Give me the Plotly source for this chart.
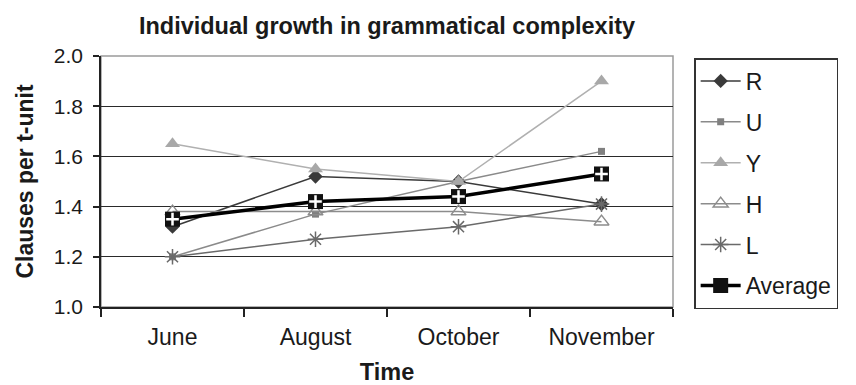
import plotly.graph_objects as go

months = ["June", "August", "October", "November"]
R = [1.32, 1.52, 1.50, 1.41]
U = [1.20, 1.37, 1.50, 1.62]
Y = [1.65, 1.55, 1.50, 1.90]
H = [1.38, 1.38, 1.38, 1.34]
L = [1.20, 1.27, 1.32, 1.41]
AVG = [1.35, 1.42, 1.44, 1.53]
y_ticks = [1.0, 1.2, 1.4, 1.6, 1.8, 2.0]

FONT = "Liberation Sans, Arial, sans-serif"

fig = go.Figure()
series = [
    ("R", R, "#3a3a3a", dict(symbol="diamond", size=11, color="#3a3a3a")),
    ("U", U, "#8a8a8a", dict(symbol="square", size=7, color="#808080")),
    ("Y", Y, "#b0b0b0", dict(symbol="triangle-up", size=13, color="#a8a8a8")),
    ("H", H, "#8c8c8c", dict(symbol="triangle-up-open", size=13, color="#8c8c8c", line=dict(width=1.5))),
    ("L", L, "#6a6a6a", dict(symbol="asterisk-open", size=13, color="#6a6a6a", line=dict(width=1.5, color="#6a6a6a"))),
]
for name, vals, col, mk in series:
    fig.add_trace(go.Scatter(x=months, y=vals, name=name, mode="lines+markers",
                             legendgroup=name,
                             line=dict(color=col, width=1.5), marker=mk))

fig.add_trace(go.Scatter(x=months, y=AVG, name="Average", mode="lines+markers",
                         legendgroup="avg",
                         line=dict(color="#000000", width=3.5),
                         marker=dict(symbol="square", size=15, color="#111111")))
fig.add_trace(go.Scatter(x=months, y=AVG, name="Average", mode="markers",
                         legendgroup="avg", showlegend=False,
                         marker=dict(symbol="cross-thin-open", size=9, color="white",
                                     line=dict(color="white", width=2.5))))

# light frame around plot area
fig.add_shape(type="rect", xref="x domain", yref="y domain", x0=0, x1=1, y0=0, y1=1,
              line=dict(color="#9a9a9a", width=1.5), layer="below")

fig.update_layout(
    width=856, height=385,
    margin=dict(l=101, r=183, t=56, b=78),
    paper_bgcolor="white", plot_bgcolor="white",
    font=dict(family=FONT, size=23, color="#1a1a1a"),
    title=dict(text="<b>Individual growth in grammatical complexity</b>",
               x=387 / 856, xanchor="center", y=1 - 26 / 385, yanchor="middle",
               font=dict(size=23.5, family=FONT, color="#1a1a1a")),
    showlegend=True,
    legend=dict(x=1.037, xanchor="left", y=0.992, yanchor="top",
                bordercolor="#333333", borderwidth=1.5, bgcolor="white",
                font=dict(size=23, family=FONT), tracegroupgap=8,
                itemwidth=40, maxheight=380),
    xaxis=dict(type="category", range=[-0.5, 3.5], tickson="boundaries",
               ticks="outside", ticklen=8,
               tickcolor="#222", tickwidth=1.5, showgrid=False,
               showline=True, linecolor="#222", linewidth=1.5, automargin=False,
               ticklabelstandoff=9,
               title=dict(text="<b>Time</b>", font=dict(size=23.5, family=FONT), standoff=19),
               tickfont=dict(size=23, family=FONT)),
    yaxis=dict(range=[1.0, 2.0], tickvals=y_ticks,
               ticktext=[f"{v:.1f}" for v in y_ticks],
               ticks="outside", ticklen=6, tickcolor="#222", tickwidth=1.5,
               showgrid=True, gridcolor="#2a2a2a", gridwidth=1.3,
               showline=True, linecolor="#222", linewidth=1.5, zeroline=False,
               automargin=False, ticklabelstandoff=6,
               title=dict(text="<b>Clauses per t-unit</b>", font=dict(size=23), standoff=14),
               tickfont=dict(size=21)),
)

fig.write_html("out.html", config={"displayModeBar": False},
               post_script="document.body.style.margin='0';")
